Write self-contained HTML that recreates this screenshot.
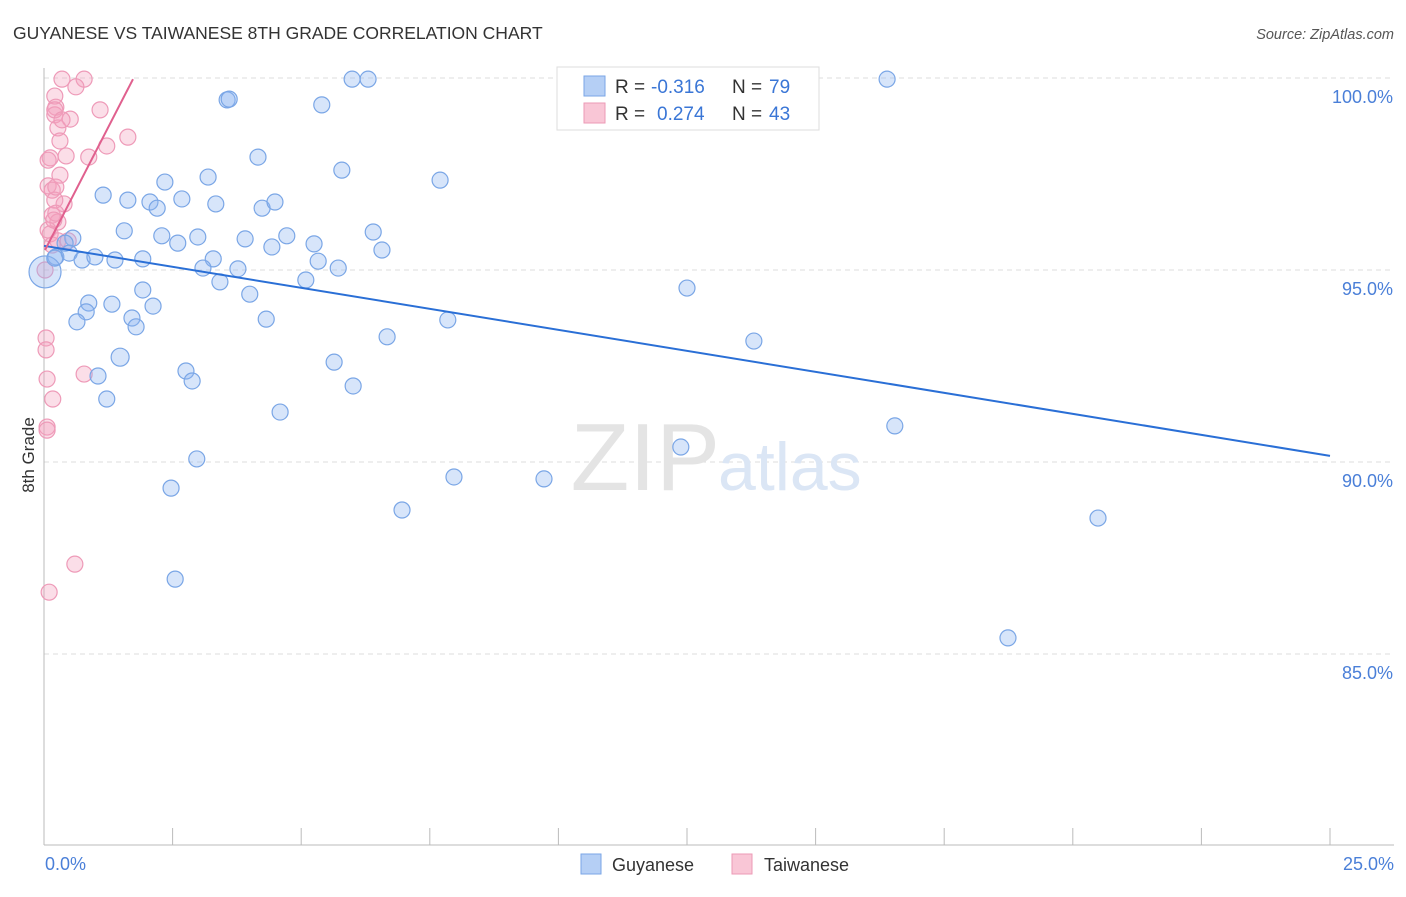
<!DOCTYPE html>
<html><head><meta charset="utf-8"><style>
body{margin:0;background:#fff;font-family:"Liberation Sans",sans-serif}
svg text{font-family:"Liberation Sans",sans-serif}
</style></head><body>
<svg width="1406" height="892">
<text x="13" y="39" font-size="17.5" fill="#333">GUYANESE VS TAIWANESE 8TH GRADE CORRELATION CHART</text>
<text x="1394" y="39" font-size="14.5" fill="#555" font-style="italic" text-anchor="end">Source: ZipAtlas.com</text>
<g id="grid"></g>
<text x="720" y="490" font-size="96" fill="#e4e4e4" text-anchor="end" font-family="Liberation Serif">ZIP</text>
<text x="718" y="490" font-size="68" fill="#dbe6f5">atlas</text>
<g id="axes"></g>
<g id="pts"></g>
<g id="trend"></g>
<text transform="translate(34,455) rotate(-90)" font-size="17" fill="#333" text-anchor="middle">8th Grade</text>
<text x="45" y="870" font-size="18" fill="#4a7fd8">0.0%</text>
<text x="1394" y="870" font-size="18" fill="#4a7fd8" text-anchor="end">25.0%</text>
<g>
<rect x="557" y="67" width="262" height="63" fill="#fff" stroke="#ddd"/>
<rect x="584" y="76" width="21" height="20" fill="#b5cff5" stroke="#7aa6e6"/>
<rect x="584" y="103" width="21" height="20" fill="#f9c6d6" stroke="#ec9ab6"/>
<text x="615" y="93" font-size="19" fill="#333">R = </text><text x="651" y="93" font-size="19" fill="#3a76d6">-0.316</text>
<text x="732" y="93" font-size="19" fill="#333">N = </text><text x="769" y="93" font-size="19" fill="#3a76d6">79</text>
<text x="615" y="120" font-size="19" fill="#333">R = </text><text x="657" y="120" font-size="19" fill="#3a76d6">0.274</text>
<text x="732" y="120" font-size="19" fill="#333">N = </text><text x="769" y="120" font-size="19" fill="#3a76d6">43</text>
</g>
<g><rect x="581" y="854" width="20" height="20" fill="#b5cff5" stroke="#7aa6e6"/><text x="612" y="871" font-size="18" fill="#333">Guyanese</text></g>
<g><rect x="732" y="854" width="20" height="20" fill="#f9c6d6" stroke="#ec9ab6"/><text x="764" y="871" font-size="18" fill="#333">Taiwanese</text></g>
</svg>
<script>
const yTicks=[100,95,90,85];
const xTicks=[0,2.5,5,7.5,10,12.5,15,17.5,20,22.5,25];
const blueX=[16.39,5.99,6.30,3.56,3.60,5.40,4.16,5.79,7.70,3.19,2.35,1.15,1.63,2.06,2.68,2.20,3.34,4.24,4.49,1.56,6.40,2.29,2.99,3.91,4.72,2.60,4.43,5.25,6.57,0.56,0.41,0.23,0.49,0.74,0.99,1.38,1.92,3.29,3.09,3.77,5.33,5.72,3.42,5.09,4.00,1.92,12.50,0.87,1.32,2.12,0.82,0.64,1.71,1.79,4.32,7.85,6.67,13.80,1.48,5.64,1.05,2.76,2.88,6.01,1.22,4.59,16.54,12.38,2.97,7.97,9.72,2.47,6.96,20.49,2.55,18.74,0.02,0.21];
const blueY=[99.97,99.97,99.97,99.43,99.45,99.30,97.94,97.60,97.34,97.42,97.29,96.95,96.82,96.77,96.85,96.61,96.72,96.61,96.77,96.02,95.99,95.89,95.86,95.81,95.89,95.70,95.60,95.68,95.52,95.83,95.70,95.34,95.44,95.26,95.34,95.26,95.29,95.29,95.05,95.03,95.23,95.05,94.69,94.74,94.37,94.48,94.53,94.14,94.11,94.06,93.91,93.65,93.75,93.52,93.72,93.70,93.26,93.15,92.73,92.60,92.24,92.37,92.11,91.98,91.64,91.30,90.94,90.39,90.08,89.61,89.56,89.32,88.75,88.54,86.95,85.42,94.95,95.31];
const blueR=[8,8,8,8,8,8,8,8,8,8,8,8,8,8,8,8,8,8,8,8,8,8,8,8,8,8,8,8,8,8,8,8,8,8,8,8,8,8,8,8,8,8,8,8,8,8,8,8,8,8,8,8,8,8,8,8,8,8,9,8,8,8,8,8,8,8,8,8,8,8,8,8,8,8,8,8,16,8];
const pinkX=[0.35,0.78,0.62,0.21,0.23,1.09,0.21,0.51,1.63,0.27,0.31,1.22,0.12,0.43,0.87,0.31,0.08,0.16,0.39,0.16,0.27,0.12,0.27,0.02,0.04,0.04,0.06,0.78,0.17,0.06,0.06,0.60,0.10,0.21,0.35,0.08,0.21,0.16,0.23,0.47,0.08,0.23,0.19];
const pinkY=[99.97,99.97,99.77,99.53,99.24,99.17,99.04,98.93,98.46,98.70,98.36,98.23,97.92,97.97,97.94,97.47,97.19,97.08,96.72,96.43,96.25,95.94,95.76,95.00,93.23,92.92,92.16,92.29,91.64,90.91,90.83,87.34,86.61,99.17,98.91,97.86,96.82,95.65,97.16,95.76,96.04,96.48,96.30];
const blueTrend=[95.63,90.16]; // y at x=0 and x=25
const pinkTrendX=[0.02,1.73];
const pinkTrendY=[95.52,99.97];
const NS='http://www.w3.org/2000/svg';
const sx=v=>44+v*51.44, sy=v=>78+(100-v)*38.4;
function mk(t,a,p){const e=document.createElementNS(NS,t);for(const k in a)e.setAttribute(k,a[k]);document.getElementById(p).appendChild(e);return e;}
yTicks.forEach(t=>{
 const l=mk('line',{x1:44,x2:1394,y1:sy(t),y2:sy(t),stroke:'#ddd','stroke-dasharray':'5,4'},'grid');
 
 
 const tx=mk('text',{x:1393,y:sy(t)+25,'font-size':18,fill:'#4a7fd8','text-anchor':'end'},'grid');
 tx.textContent=t.toFixed(1)+'%';
 
 
});
mk('line',{x1:44,x2:44,y1:68,y2:845,stroke:'#bbb'},'axes');
mk('line',{x1:44,x2:1394,y1:845,y2:845,stroke:'#bbb'},'axes');
xTicks.forEach(t=>{
 const l=mk('line',{x1:sx(t),x2:sx(t),y1:828,y2:845,stroke:'#bbb'},'axes');
 
 
});
pinkX.forEach((x,i)=>{
 const c=mk('circle',{cx:sx(x),cy:sy(pinkY[i]),r:8,fill:'rgba(244,160,190,0.35)',stroke:'#ee9ab8','stroke-width':1.2},'pts');
 
 
});
blueX.forEach((x,i)=>{
 const c=mk('circle',{cx:sx(x),cy:sy(blueY[i]),r:blueR[i],fill:'rgba(140,180,240,0.35)',stroke:'#7aa6e6','stroke-width':1.2},'pts');
 
 
});
const bl=mk('line',{x1:sx(0),y1:sy(blueTrend[0]),x2:sx(25),y2:sy(blueTrend[1]),stroke:'#2a6fd6','stroke-width':2},'trend');


const pl=mk('line',{x1:sx(pinkTrendX[0]),y1:sy(pinkTrendY[0]),x2:sx(pinkTrendX[1]),y2:sy(pinkTrendY[1]),stroke:'#e0608e','stroke-width':2},'trend');


</script>
</body></html>
